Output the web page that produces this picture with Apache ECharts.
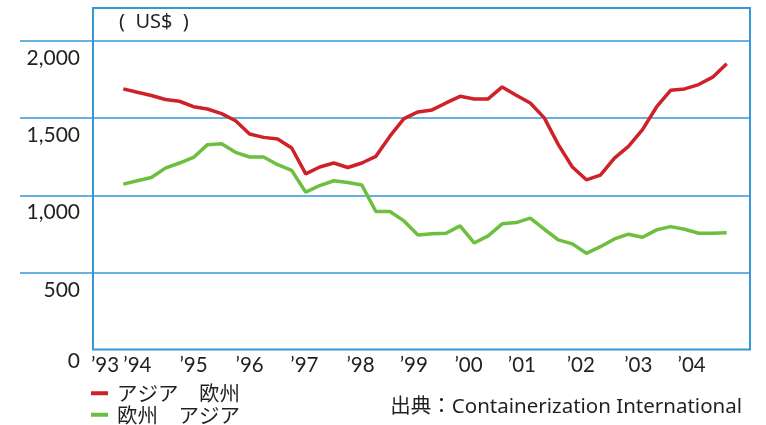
<!DOCTYPE html>
<html><head><meta charset="utf-8">
<script src="https://cdn.jsdelivr.net/npm/echarts@6/dist/echarts.min.js"></script>
<style>html,body{margin:0;padding:0;background:#fff}#c{width:766px;height:425px}</style>
</head><body><div id="c"></div>
<script>
// Quarterly observations, 1993 Q4 to 2004 Q3
const quarters = [
  '1993Q4',
  '1994Q1','1994Q2','1994Q3','1994Q4',
  '1995Q1','1995Q2','1995Q3','1995Q4',
  '1996Q1','1996Q2','1996Q3','1996Q4',
  '1997Q1','1997Q2','1997Q3','1997Q4',
  '1998Q1','1998Q2','1998Q3','1998Q4',
  '1999Q1','1999Q2','1999Q3','1999Q4',
  '2000Q1','2000Q2','2000Q3','2000Q4',
  '2001Q1','2001Q2','2001Q3','2001Q4',
  '2002Q1','2002Q2','2002Q3','2002Q4',
  '2003Q1','2003Q2','2003Q3','2003Q4',
  '2004Q1','2004Q2','2004Q3'
];
// アジア → 欧州 (US$)
const asiaToEurope = [
  1688,
  1666,1645,1619,1608,
  1573,1558,1528,1482,
  1396,1374,1364,1305,
  1138,1182,1208,1179,
  1208,1251,1382,1495,
  1539,1552,1597,1640,
  1623,1623,1701,1647,
  1597,1500,1327,1182,
  1099,1129,1240,1316,
  1424,1571,1679,1688,
  1716,1764,1851
];
// 欧州 → アジア (US$)
const europeToAsia = [
  1071,
  1093,1114,1175,1208,
  1244,1327,1333,1277,
  1247,1247,1197,1160,
  1019,1062,1093,1082,
  1065,894,894,833,
  742,749,753,801,
  690,736,814,822,
  851,779,710,684,
  623,666,716,747,
  727,775,796,779,
  753,753,757
];
const seriesNames = ['アジア　欧州', '欧州　アジア'];
const yearLabels = ['’93','’94','’95','’96','’97','’98','’99','’00','’01','’02','’03','’04'];
// label positions on the quarter index scale
const yearLabelPos = [-1.3, 1, 5, 9, 12.9, 16.9, 20.7, 24.6, 28.4, 32.6, 36.7, 40.5];
const yTicks = [0, 500, 1000, 1500, 2000];

const FONT = 'Lato, "Noto Sans CJK JP", sans-serif';
const FONT2 = '"Noto Sans", "Noto Sans CJK JP", sans-serif';
const BLUE = '#3597d6';
const TXT = '#231f20';

const chart = echarts.init(document.getElementById('c'), null, {renderer: 'canvas'});
chart.setOption({
  animation: false,
  backgroundColor: '#fff',
  textStyle: {fontFamily: FONT},
  title: [
    {text: '(  US$  )', left: 119, top: 12, padding: 0,
     textStyle: {fontFamily: FONT2, fontSize: 20, fontWeight: 'normal', color: TXT}},
    {text: '出典：Containerization International', right: 24, top: 397, padding: 0,
     textStyle: {fontFamily: FONT2, fontSize: 20.5, fontWeight: 'normal', color: TXT}}
  ],
  legend: {
    orient: 'vertical', left: 91, top: 383, padding: 0, itemGap: 1,
    icon: 'rect', itemWidth: 17, itemHeight: 4,
    data: seriesNames,
    textStyle: {fontFamily: '"Noto Sans CJK JP", sans-serif', fontSize: 20.5, color: TXT, padding: [0, 0, 0, 4]}
  },
  grid: [
    {left: 20, right: 16, top: 40.7, bottom: 151.9, show: false},
    {left: 93, right: 16, top: 8, bottom: 75.5, show: true,
     borderColor: BLUE, borderWidth: 2, backgroundColor: 'transparent'}
  ],
  xAxis: [
    {gridIndex: 0, type: 'value', min: 0, max: 1, show: false},
    {gridIndex: 1, type: 'value', min: -2.16, max: 44.66,
     axisLine: {show: false}, axisTick: {show: false}, splitLine: {show: false},
     axisLabel: {
       customValues: yearLabelPos,
       margin: 6,
       fontSize: 20.5, color: TXT, fontFamily: FONT,
       formatter: function (v) {
         let best = 0, d = Infinity;
         yearLabelPos.forEach((p, i) => { if (Math.abs(p - v) < d) { d = Math.abs(p - v); best = i; } });
         return yearLabels[best];
       }
     }}
  ],
  yAxis: [
    {gridIndex: 0, type: 'value', min: 500, max: 2000, interval: 500,
     axisLine: {show: false}, axisTick: {show: false}, axisLabel: {show: false},
     splitLine: {show: true, lineStyle: {color: BLUE, width: 1.5}}},
    {gridIndex: 1, type: 'value', min: 0, max: 2212, interval: 500,
     axisLine: {show: false}, axisTick: {show: false}, splitLine: {show: false},
     axisLabel: {
       margin: 13, fontSize: 21, color: TXT, fontFamily: FONT,
       verticalAlign: 'top', padding: [7, 0, 0, 0],
       formatter: function (v) {
         if (v === 0) return '{z|0}';
         return yTicks.indexOf(v) >= 0 ? v.toLocaleString('en-US') : '';
       },
       rich: {z: {fontSize: 21, fontFamily: FONT, color: TXT, padding: [-6, 0, 0, 0]}}
     }}
  ],
  series: [
    {name: seriesNames[0], type: 'line', xAxisIndex: 1, yAxisIndex: 1,
     showSymbol: false, color: '#cf2128',
     lineStyle: {width: 3.5, color: '#cf2128'},
     data: asiaToEurope.map((v, i) => [i, v])},
    {name: seriesNames[1], type: 'line', xAxisIndex: 1, yAxisIndex: 1,
     showSymbol: false, color: '#6cbf3f',
     lineStyle: {width: 3.5, color: '#6cbf3f'},
     data: europeToAsia.map((v, i) => [i, v])}
  ]
});
</script>
</body></html>
